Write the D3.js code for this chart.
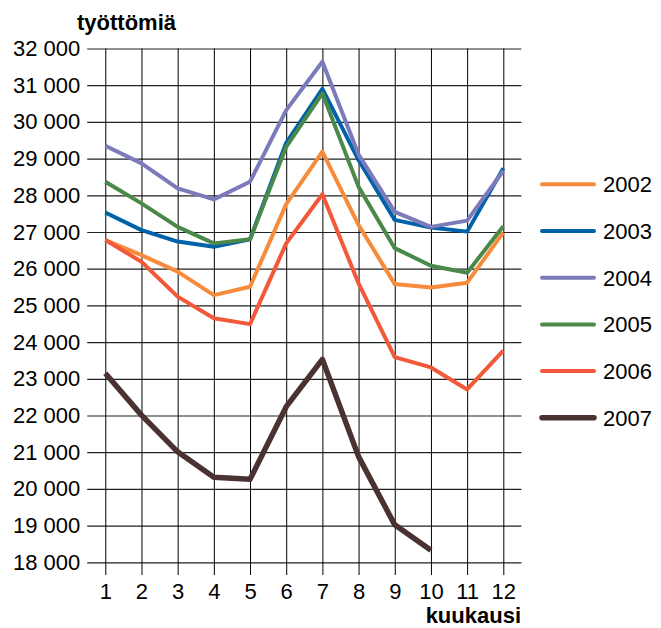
<!DOCTYPE html>
<html>
<head>
<meta charset="utf-8">
<script src="https://cdn.jsdelivr.net/npm/d3@7"></script>
<style>
  body { margin: 0; background: #fff; }
  text { font-family: "Liberation Sans", Arial, sans-serif; fill: #000; }
</style>
</head>
<body>
<script>
// months 1..12
const months = [1, 2, 3, 4, 5, 6, 7, 8, 9, 10, 11, 12];
const years = ['2002', '2003', '2004', '2005', '2006', '2007'];
const colors = ['#f68b3c', '#0062a8', '#7b7bbb', '#4b894a', '#f1593a', '#4a3232'];

const v2002 = [26780, 26370, 25920, 25280, 25510, 27760, 29190, 27190, 25580, 25490, 25620, 26990];
const v2003 = [27530, 27050, 26740, 26600, 26800, 29430, 30900, 28960, 27330, 27120, 27010, 28740];
const v2004 = [29350, 28870, 28190, 27890, 28370, 30320, 31640, 29110, 27550, 27140, 27310, 28670];
const v2005 = [28370, 27780, 27140, 26690, 26800, 29320, 30780, 28230, 26560, 26080, 25890, 27160];
const v2006 = [26780, 26190, 25240, 24650, 24490, 26690, 28030, 25600, 23590, 23310, 22710, 23770];
const v2007 = [23150, 22010, 21010, 20320, 20260, 22240, 23530, 20880, 19020, 18330];

const yTicks = d3.range(18000, 32001, 1000);
const series = [v2002, v2003, v2004, v2005, v2006, v2007];

const W = 661, H = 628;
const plotLeft = 87.2, plotRight = 521.4, plotTop = 48.5, plotBottom = 562.3;
const fs = '22px';

const svg = d3.select('body').append('svg')
  .attr('width', W)
  .attr('height', H);

const x = d3.scaleLinear().domain([0.5, 12.5]).range([plotLeft, plotRight]);
const y = d3.scaleLinear().domain([18000, 32000]).range([plotBottom, plotTop]);

// horizontal grid + y labels
const yAxis = svg.append('g')
  .attr('transform', `translate(${plotLeft},0)`)
  .call(d3.axisLeft(y).tickValues(yTicks)
    .tickSize(-(plotRight - plotLeft)).tickPadding(7)
    .tickFormat(d => d3.format(',')(d).replace(',', ' ')));
yAxis.select('.domain').remove();
yAxis.selectAll('line').attr('stroke', '#222').attr('stroke-width', 1.2);
yAxis.selectAll('text').style('font-size', fs).attr('fill', '#000');

// vertical grid + x labels
const xAxis = svg.append('g')
  .attr('transform', `translate(0,${plotTop})`)
  .call(d3.axisBottom(x).tickValues(months)
    .tickSize(575 - plotTop).tickPadding(8).tickFormat(d3.format('d')));
xAxis.select('.domain').remove();
xAxis.selectAll('line').attr('stroke', '#000').attr('stroke-width', 1);
xAxis.selectAll('text').style('font-size', fs).attr('fill', '#000');

// lines
const line = d3.line()
  .x((d, i) => x(months[i]))
  .y(d => y(d));

svg.append('g').selectAll('path')
  .data(series)
  .enter().append('path')
  .attr('d', line)
  .attr('fill', 'none')
  .attr('stroke', (d, i) => colors[i])
  .attr('stroke-width', (d, i) => i === 5 ? 5.5 : 4)
  .attr('stroke-linejoin', 'round');

// axis titles
svg.append('text')
  .attr('x', 77).attr('y', 30)
  .style('font-size', fs).style('font-weight', 'bold')
  .text('työttömiä');

svg.append('text')
  .attr('x', 521).attr('y', 623)
  .attr('text-anchor', 'end')
  .style('font-size', fs).style('font-weight', 'bold')
  .text('kuukausi');

// legend
const legend = svg.selectAll('.legend')
  .data(years)
  .enter().append('g')
  .attr('class', 'legend')
  .attr('transform', (d, i) => `translate(542,${184.3 + i * 46.7})`);

legend.append('line')
  .attr('x1', 0).attr('x2', 52)
  .attr('stroke', (d, i) => colors[i])
  .attr('stroke-width', (d, i) => i === 5 ? 5.5 : 4)
  .attr('stroke-linecap', 'round');

legend.append('text')
  .attr('x', 61).attr('y', 0).attr('dy', '0.36em')
  .style('font-size', fs)
  .text(d => d);
</script>
</body>
</html>
